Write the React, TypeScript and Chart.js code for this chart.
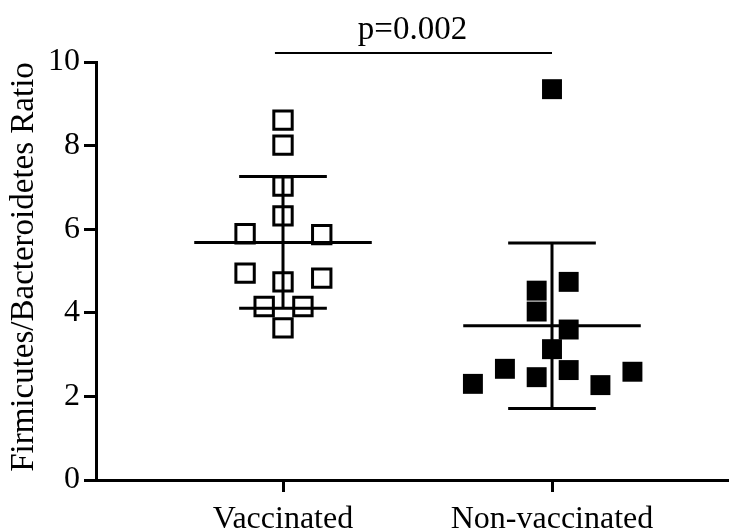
import { useEffect, useRef } from 'react';
import { Chart, registerables } from 'chart.js';

Chart.register(...registerables);

const categories = ['Vaccinated', 'Non-vaccinated'];
const vaccinatedValues = [8.61, 8.01, 7.03, 6.32, 5.89, 5.87, 4.95, 4.83, 4.74, 4.15, 4.15, 3.64];
const vaccinatedJitter = [0, 0, 0, 0, -0.141, 0.144, -0.141, 0.144, 0, -0.07, 0.074, 0];
const nonVaccinatedValues = [9.35, 4.74, 4.53, 4.03, 3.6, 3.13, 2.66, 2.63, 2.46, 2.59, 2.3, 2.27];
const nonVaccinatedJitter = [0, 0.062, -0.057, -0.057, 0.062, 0, -0.175, 0.062, -0.057, 0.299, -0.294, 0.18];
const yTicks = [0, 2, 4, 6, 8, 10];
const yAxisTitle = 'Firmicutes/Bacteroidetes Ratio';
const pValueLabel = 'p=0.002';
const pBracketY = 10.215;

const FONT = "'Liberation Serif', 'Times New Roman', Times, serif";

function mean(a: number[]) {
  return a.reduce((s, v) => s + v, 0) / a.length;
}
function sd(a: number[]) {
  const m = mean(a);
  return Math.sqrt(a.reduce((s, v) => s + (v - m) * (v - m), 0) / (a.length - 1));
}

function summaryLines(center: number, values: number[]) {
  const m = mean(values);
  const s = sd(values);
  const meanHalf = 0.33;
  const capHalf = 0.163;
  const base = {
    showLine: true,
    pointRadius: 0,
    pointHoverRadius: 0,
    borderColor: '#000',
    borderWidth: 3,
    backgroundColor: '#000',
    fill: false,
  };
  return [
    { ...base, data: [{ x: center - meanHalf, y: m }, { x: center + meanHalf, y: m }] },
    { ...base, data: [{ x: center, y: m - s }, { x: center, y: m + s }] },
    { ...base, data: [{ x: center - capHalf, y: m + s }, { x: center + capHalf, y: m + s }] },
    { ...base, data: [{ x: center - capHalf, y: m - s }, { x: center + capHalf, y: m - s }] },
  ];
}

const annotationPlugin = {
  id: 'annot',
  afterDraw(chart: any) {
    const { ctx, scales, chartArea } = chart;
    const xs = scales.x;
    const ys = scales.y;
    ctx.save();
    // p-value bracket
    const x1 = xs.getPixelForValue(0.97);
    const x2 = xs.getPixelForValue(2.0);
    const yb = ys.getPixelForValue(pBracketY);
    ctx.strokeStyle = '#000';
    ctx.lineWidth = 2;
    ctx.beginPath();
    ctx.moveTo(x1, yb);
    ctx.lineTo(x2, yb);
    ctx.stroke();
    ctx.fillStyle = '#000';
    ctx.font = `33px ${FONT}`;
    ctx.textAlign = 'center';
    ctx.textBaseline = 'alphabetic';
    ctx.fillText(pValueLabel, (xs.getPixelForValue(1) + xs.getPixelForValue(2)) / 2 - 5, yb - 14);
    // y axis title
    ctx.translate(24, (chartArea.top + chartArea.bottom) / 2 - 4);
    ctx.rotate(-Math.PI / 2);
    ctx.font = `33px ${FONT}`;
    ctx.textAlign = 'center';
    ctx.textBaseline = 'middle';
    ctx.fillText(yAxisTitle, 0, 0);
    ctx.restore();
  },
};

export default function App() {
  const ref = useRef<HTMLCanvasElement | null>(null);
  useEffect(() => {
    if (!ref.current) return;
    const chart = new Chart(ref.current, {
      type: 'scatter',
      data: {
        datasets: [
          {
            data: vaccinatedValues.map((v, i) => ({ x: 1 + vaccinatedJitter[i], y: v })),
            pointStyle: 'rect',
            pointRadius: 13,
            pointHoverRadius: 13,
            borderColor: '#000',
            backgroundColor: 'rgba(0,0,0,0)',
            borderWidth: 3,
            pointBorderWidth: 3,
          } as any,
          {
            data: nonVaccinatedValues.map((v, i) => ({ x: 2 + nonVaccinatedJitter[i], y: v })),
            pointStyle: 'rect',
            pointRadius: 14.1,
            pointHoverRadius: 14.1,
            borderColor: '#000',
            backgroundColor: '#000',
            borderWidth: 0,
            pointBorderWidth: 0,
          } as any,
          ...summaryLines(1, vaccinatedValues),
          ...summaryLines(2, nonVaccinatedValues),
        ],
      },
      options: {
        animation: false,
        responsive: true,
        maintainAspectRatio: false,
        layout: { autoPadding: false, padding: { top: 62, right: 0, left: 0, bottom: 0 } },
        plugins: { legend: { display: false }, tooltip: { enabled: false } },
        scales: {
          x: {
            type: 'linear',
            min: 0.3048,
            max: 2.658,
            afterBuildTicks: (s: any) => {
              s.ticks = categories.map((_, i) => ({ value: i + 1 }));
            },
            afterFit: (s: any) => {
              s.height = 51;
              s.paddingLeft = 0;
              s.paddingRight = 0;
            },
            ticks: {
              autoSkip: false,
              maxRotation: 0,
              color: '#000',
              padding: 8,
              font: { family: FONT, size: 32 },
              callback: (_v: any, i: number) => categories[i],
            },
            grid: {
              display: true,
              drawOnChartArea: false,
              drawTicks: true,
              tickLength: 12,
              tickWidth: 3,
              tickColor: '#000',
              color: '#000',
              lineWidth: 3,
            },
            border: { display: true, color: '#000', width: 3 },
          },
          y: {
            type: 'linear',
            min: 0,
            max: 10,
            afterBuildTicks: (s: any) => {
              s.ticks = yTicks.map((v) => ({ value: v }));
            },
            afterFit: (s: any) => {
              s.width = 96;
              s.paddingTop = 0;
              s.paddingBottom = 0;
            },
            ticks: {
              color: '#000',
              padding: 4,
              font: { family: FONT, size: 32 },
            },
            grid: {
              display: true,
              drawOnChartArea: false,
              drawTicks: true,
              tickLength: 12,
              tickWidth: 3,
              tickColor: '#000',
              color: '#000',
              lineWidth: 3,
            },
            border: { display: true, color: '#000', width: 3 },
          },
        },
      } as any,
      plugins: [annotationPlugin],
    });
    return () => chart.destroy();
  }, []);
  return (
    <div style={{ position: 'fixed', left: 0, top: 0, width: 729, height: 531, background: '#fff' }}>
      <canvas ref={ref} />
    </div>
  );
}
